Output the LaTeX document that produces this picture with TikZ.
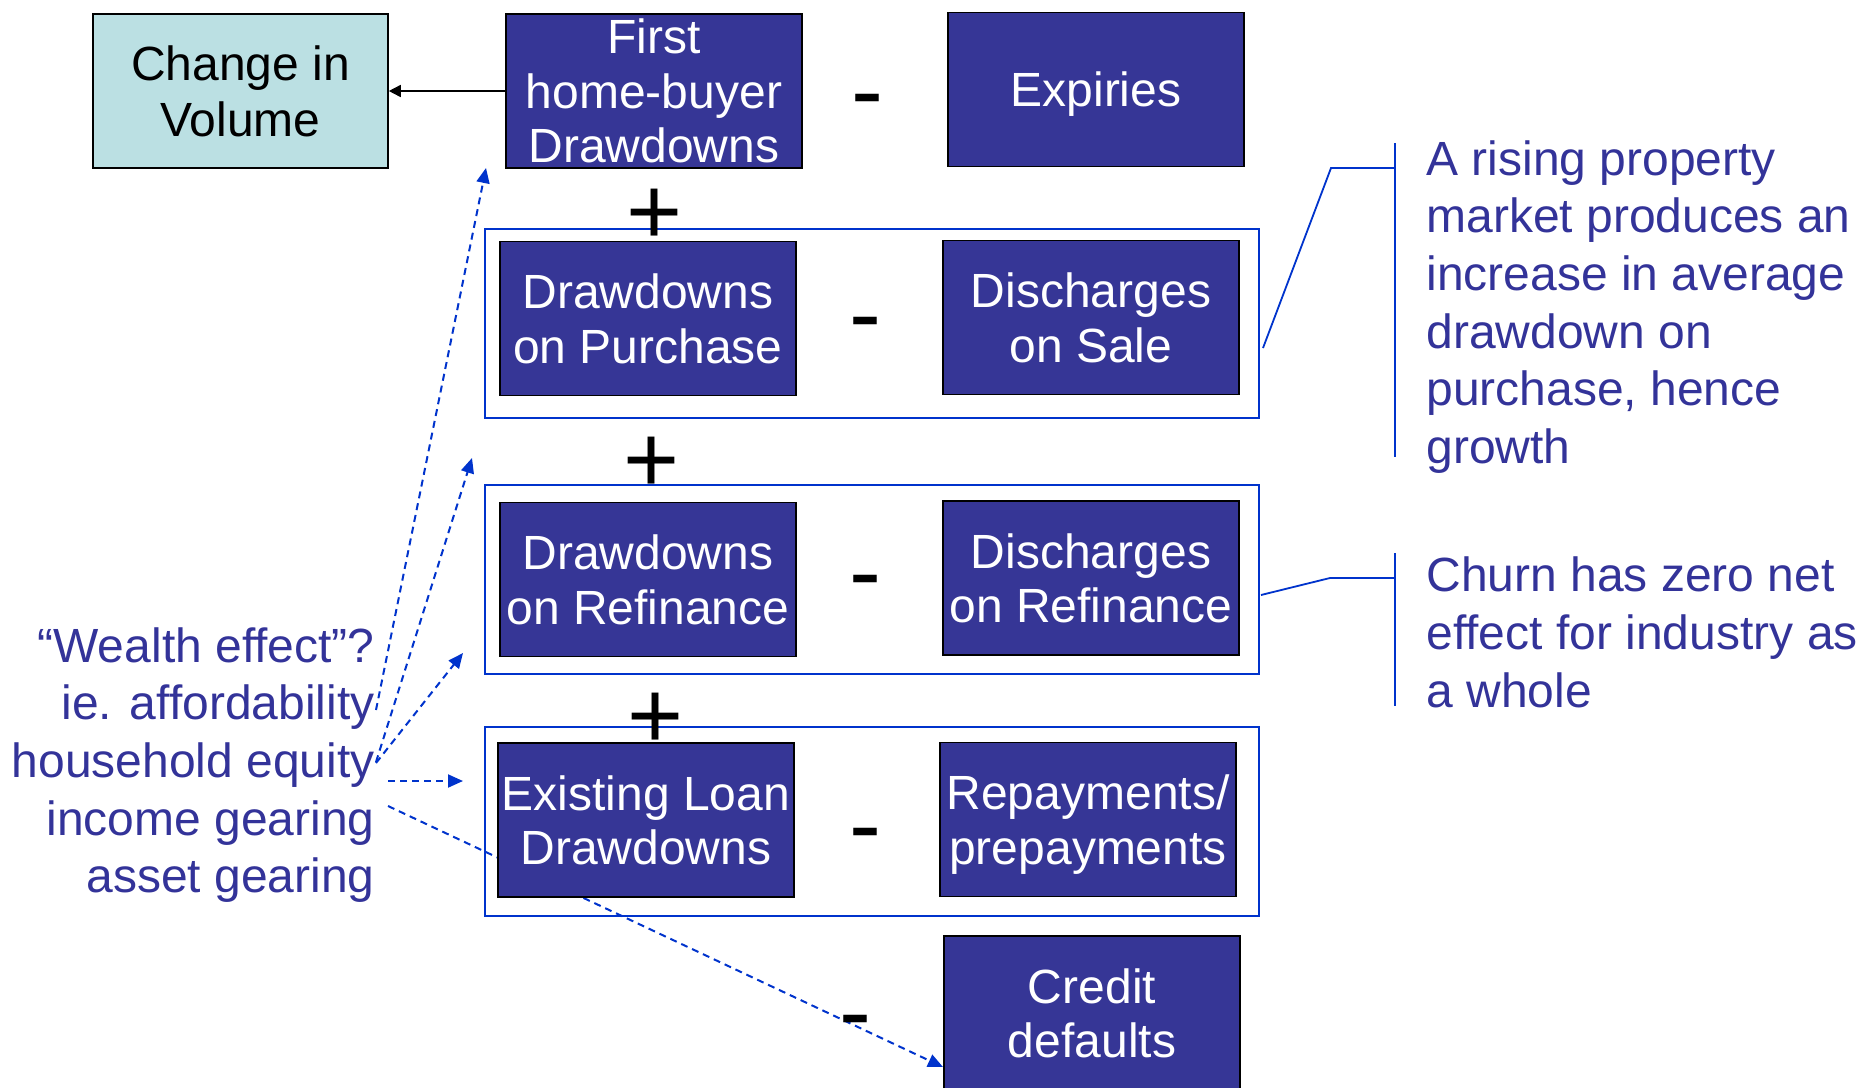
\documentclass[tikz,border=0pt]{standalone}
\usepackage{fontspec}
\setmainfont{Liberation Sans}
\usetikzlibrary{arrows.meta,backgrounds}
\definecolor{boxblue}{HTML}{363696}
\definecolor{lineblue}{HTML}{0033CC}
\definecolor{txtblue}{HTML}{333399}
\definecolor{volfill}{HTML}{BBE0E3}
\begin{document}
\begin{tikzpicture}[x=0.5pt,y=-0.5pt,
  darkbox/.style={draw=black, line width=0.8pt, fill=boxblue, text=white,
    minimum width=148pt, minimum height=77pt, inner sep=0pt, align=center,
    font=\fontsize{24}{27.3}\selectfont, text depth=0pt},
  volbox/.style={draw=black, line width=0.8pt, fill=volfill, text=black,
    minimum width=147.5pt, minimum height=77pt, inner sep=0pt, align=center,
    font=\fontsize{24}{28}\selectfont, text depth=0pt},
  outerbox/.style={draw=lineblue, line width=0.9pt, minimum width=387pt,
    minimum height=94.5pt, inner sep=0pt},
  sign/.style={font=\fontsize{48}{48}\selectfont, text=black, inner sep=0pt, anchor=base},
  dasharrow/.style={draw=lineblue, line width=1pt, dash pattern=on 3.5pt off 2.5pt,
    -{Triangle[length=7.5pt,width=6.5pt]}},
  callout/.style={draw=lineblue, line width=0.9pt},
  sidetext/.style={text=txtblue, font=\fontsize{24}{28.8}\selectfont, inner sep=0pt, text depth=0pt}
]
\useasboundingbox (0,0) rectangle (1863,1087);

% outer grouping boxes
\node[outerbox] (o1) at (872,323.5) {};
\node[outerbox] (o2) at (872,579.5) {};
\node[outerbox] (o3) at (872,821.5) {};

% main boxes
\node[volbox] (vol) at (240.5,91) {Change in\\Volume};
\node[darkbox] (fhb) at (654,91) {First\\home-buyer\\Drawdowns};
\node[darkbox] (exp) at (1096,89.5) {Expiries};
\node[darkbox] (dp) at (648,318.5) {Drawdowns\\on Purchase};
\node[darkbox] (ds) at (1091,317.5) {Discharges\\on Sale};
\node[darkbox] (dr) at (648,579.5) {Drawdowns\\on Refinance};
\node[darkbox] (dsr) at (1091,578) {Discharges\\on Refinance};
\node[darkbox] (el) at (646,820) {Existing Loan\\Drawdowns};
\node[darkbox] (rp) at (1088,819.5) {Repayments/\\prepayments};
\node[darkbox] (cd) at (1092,1013) {Credit\\defaults};

% signs
\node[sign] (m1) at (867,123) {-};
\node[sign] (p1) at (655,244) {+};
\node[sign] (m2) at (865,346) {-};
\node[sign] (p2) at (652,492) {+};
\node[sign] (m3) at (865,604) {-};
\node[sign] (p3) at (656,748) {+};
\node[sign] (m4) at (865,857) {-};
\node[sign] (m5) at (855,1044) {-};

% black arrow
\draw[line width=0.8pt, -{Triangle[length=6pt,width=6pt]}] (fhb.west) -- (vol.east);

% side texts
\node[sidetext, align=right, anchor=east] (wealth) at (375,760)
  {“Wealth effect”?\\ie. affordability\\household equity\\income gearing\\asset gearing};
\node[sidetext, align=left, anchor=west] (rising) at (1426,302)
  {A rising property\\market produces an\\increase in average\\drawdown on\\purchase, hence\\growth};
\node[sidetext, align=left, anchor=west] (churn) at (1426,632)
  {Churn has zero net\\effect for industry as\\a whole};

% dashed influence arrows
\coordinate (sA) at (376,710);
\coordinate (tA) at (486,168);
\coordinate (sB) at (376,762);
\coordinate (tB) at (472,458);
\coordinate (sC) at (376,763);
\coordinate (tC) at (463,653);
\coordinate (sD) at (388,781);
\coordinate (tD) at (463,781);
\coordinate (sE) at (388,806);
\coordinate (tE) at (943,1067);
\draw[dasharrow] (sA) -- (tA);
\draw[dasharrow] (sB) -- (tB);
\draw[dasharrow] (sC) -- (tC);
\draw[dasharrow] (sD) -- (tD);
\begin{pgfonlayer}{background}
\draw[dasharrow] (sE) -- (tE);
\end{pgfonlayer}

% callouts
\coordinate (c1s) at (1263,348);
\coordinate (c1k) at (1331,168);
\coordinate (c1e) at (1395,168);
\coordinate (b1t) at (1395,143);
\coordinate (b1b) at (1395,457);
\draw[callout] (c1s) -- (c1k) -- (c1e);
\draw[callout] (b1t) -- (b1b);
\coordinate (c2s) at (1261,595);
\coordinate (c2k) at (1330,578);
\coordinate (c2e) at (1395,578);
\coordinate (b2t) at (1395,553);
\coordinate (b2b) at (1395,706);
\draw[callout] (c2s) -- (c2k) -- (c2e);
\draw[callout] (b2t) -- (b2b);
\end{tikzpicture}
\end{document}
